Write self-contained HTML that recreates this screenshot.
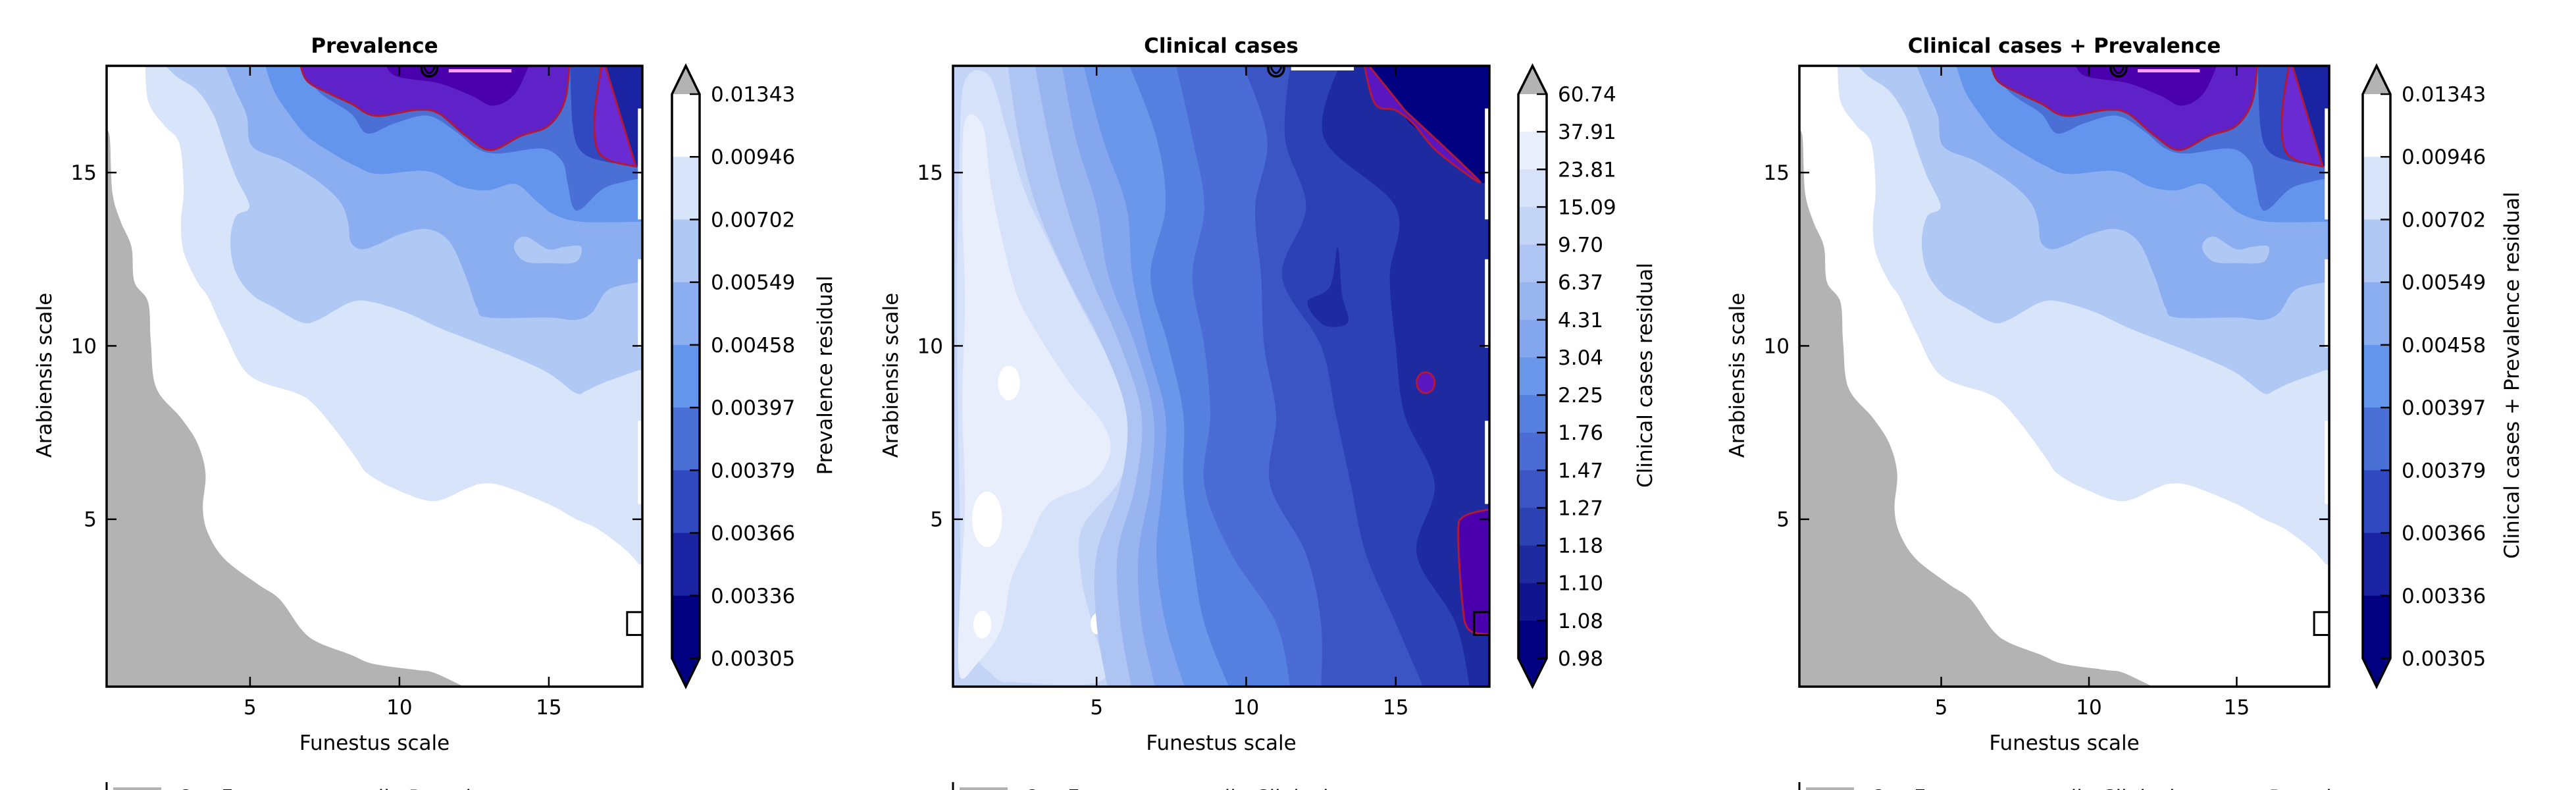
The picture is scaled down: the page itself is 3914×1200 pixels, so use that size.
<!DOCTYPE html>
<html><head><meta charset="utf-8"><title>Residual contour maps</title>
<style>
html,body{margin:0;padding:0;background:#fff;width:3914px;height:1200px;overflow:hidden}
svg{display:block;font-family:"DejaVu Sans","Liberation Sans",sans-serif}
</style></head>
<body>
<svg id="fig" xmlns="http://www.w3.org/2000/svg" width="3914" height="1200" viewBox="0 0 3914 1200"></svg>
<script>
// ---------- data ----------
const xTicks = [5, 10, 15];
const yTicks = [5, 10, 15];
const prevCbarLabels = ['0.01343','0.00946','0.00702','0.00549','0.00458','0.00397','0.00379','0.00366','0.00336','0.00305'];
const prevCbarColors = ['#ffffff','#d8e4fa','#b0c8f4','#8aaef0','#6495ed','#4a70d6','#3049c0','#1a24a3','#000080'];
const clinCbarLabels = ['60.74','37.91','23.81','15.09','9.70','6.37','4.31','3.04','2.25','1.76','1.47','1.27','1.18','1.10','1.08','0.98'];
const clinCbarColors = ['#ffffff','#e8eefb','#d6e2f9','#c3d4f7','#aec5f3','#98b5f0','#84a6ee','#6a97ea','#5580e0','#4a6cd4','#3b55c4','#2c42b4','#1e2aa0','#10148e','#000080'];

// prevalence residual contour boundaries (data coords)
const prevGray = [[0.1,16.2],[0.30,16.06],[0.39,14.45],[0.67,13.59],[1.03,12.86],[1.13,11.85],[1.59,11.26],[1.68,10.10],[1.86,8.79],[2.69,7.92],[3.24,7.19],[3.51,6.32],[3.42,5.31],[3.60,4.58],[4.15,3.85],[5.25,3.13],[5.99,2.69],[6.72,1.82],[7.27,1.45],[8.37,1.09],[9.11,0.83],[10.58,0.65],[11.13,0.58],[12.04,0.22],[12.6,0.0]];
const prevL1 = [[1.49,18.3],[1.59,17.07],[2.14,16.35],[2.50,16.06],[2.69,15.62],[2.78,14.46],[2.69,13.58],[2.78,12.71],[3.24,11.84],[3.60,11.40],[4.15,10.39],[4.98,9.15],[6.54,8.64],[7.09,8.35],[7.82,7.62],[8.56,6.75],[8.93,6.32],[9.84,5.88],[11.13,5.52],[12.23,5.88],[12.78,6.03],[13.51,5.95],[14.98,5.44],[15.90,5.01],[16.63,4.72],[17.55,4.13],[18.01,3.70]];
const prevL2 = [[1.95,18.3],[2.50,17.80],[3.24,17.36],[3.79,16.64],[4.15,15.76],[4.52,14.89],[4.98,14.02],[4.52,13.73],[4.34,13.00],[4.52,12.13],[5.07,11.48],[5.80,11.11],[6.72,10.68],[7.27,10.75],[8.37,11.26],[9.11,11.26],[10.21,10.97],[11.31,10.53],[12.59,10.10],[13.88,9.66],[14.98,9.22],[15.90,8.64],[16.26,8.71],[16.81,8.93],[18.01,9.30]];
const prevL3 = [[4.06,18.3],[4.52,17.36],[4.89,16.64],[5.07,15.76],[6.17,15.33],[7.27,14.75],[8.01,14.16],[8.28,13.58],[8.37,13.00],[8.74,12.79],[9.29,12.93],[10.02,13.22],[10.94,13.37],[11.68,13.00],[12.23,11.99],[12.59,11.11],[12.96,10.82],[14.98,10.82],[15.90,10.75],[16.45,10.97],[16.99,11.62],[18.01,11.84]];
const prevIsland = [[13.88,13.00],[14.25,13.15],[14.98,12.79],[15.53,12.86],[16.08,12.86],[15.90,12.42],[14.98,12.39],[14.25,12.42],[13.88,12.71]];
const prevL4 = [[5.44,18.3],[5.80,17.36],[6.35,16.64],[6.90,16.06],[7.64,15.62],[8.56,15.18],[9.29,14.96],[10.94,15.04],[12.04,14.60],[12.96,14.49],[13.88,14.67],[14.61,14.16],[15.16,13.80],[16.08,13.58],[18.01,13.58]];
const prevL5 = [[6.63,18.3],[7.27,17.36],[8.37,16.71],[8.92,16.13],[9.84,16.42],[10.94,16.64],[11.86,16.20],[12.59,15.69],[13.32,15.55],[14.79,15.69],[15.44,15.33],[15.62,14.74],[15.80,14.02],[16.08,13.95],[16.81,14.53],[17.55,14.74],[18.01,14.82]];
const prevL6 = [[15.71,18.3],[15.80,16.35],[16.08,15.62],[16.81,15.33],[18.01,15.18]];
const prevPurple = [[6.63,18.3],[6.90,17.66],[7.64,17.29],[8.37,17.00],[9.20,16.64],[10.58,16.81],[11.31,16.71],[12.23,16.06],[13.05,15.65],[14.06,16.06],[14.98,16.35],[15.53,17.07],[15.71,18.3]];
const prevPurpleCore = [[9.48,18.3],[9.84,17.8],[11.31,17.58],[12.41,17.22],[13.14,16.93],[13.88,17.29],[14.43,18.3]];
const prevRightPurple = [[16.81,18.3],[16.54,16.78],[16.59,15.76],[17.0,15.36],[17.91,15.18]];
const prevRightNavy = [[16.81,18.3],[18.2,18.3],[18.2,15.18],[17.91,15.18]];

// clinical residual contour boundaries
const clinYs = [18.3, 16, 14, 12, 10, 8, 6, 4, 2, 0];
const clinBands = [
  [2.0,2.4,3.0,4.0,5.2,6.0,5.8,5.0,5.0,5.4],
  [2.9,3.4,4.0,4.8,5.8,6.5,6.3,5.7,5.8,6.2],
  [3.8,4.3,5.0,5.4,6.3,6.9,6.8,6.4,6.5,7.0],
  [4.5,5.2,6.0,6.2,6.7,7.3,7.2,7.0,7.3,8.0],
  [6.0,7.0,7.3,6.8,7.4,7.9,7.9,8.2,8.6,9.5],
  [7.6,8.2,8.6,8.2,8.6,8.8,8.6,9.5,11.0,11.5],
  [9.8,10.7,10.3,10.5,10.6,11.0,10.8,12.0,12.5,12.5],
  [11.5,11.3,12.0,11.2,12.5,13.0,13.5,14.0,15.0,16.0],
  [13.2,12.6,15.0,14.8,15.0,15.3,16.3,15.7,17.0,17.5]
];
const clinBandColors = ['#aec5f3','#98b5f0','#84a6ee','#6a97ea','#5580e0','#4a6cd4','#3b55c4','#2c42b4','#1e2aa0'];
const clinMid = [[0.60,17.65],[1.40,17.80],[2.0,16.20],[2.6,14.46],[3.4,13.00],[4.4,11.26],[5.3,9.80],[5.9,8.64],[6.2,7.19],[5.7,6.03],[4.5,4.72],[4.5,3.27],[4.9,1.81],[5.2,0.36],[2.44,0.29],[1.53,0.50],[0.60,1.81],[0.42,5.45],[0.33,11.26],[0.42,15.62]];
const clinCore = [[0.60,16.48],[1.20,16.34],[1.50,14.46],[2.2,11.84],[2.8,10.68],[4.1,8.93],[5.2,7.77],[5.45,6.90],[4.8,6.03],[3.4,5.45],[2.7,4.28],[2.15,3.27],[1.8,1.81],[0.97,0.80],[0.42,0.50],[0.42,2.54],[0.60,5.45],[0.51,8.35],[0.60,11.26],[0.51,14.17]];
const clinWhiteBlobs = [[2.07,8.93,0.37,0.5],[1.34,5.0,0.5,0.8],[1.18,1.96,0.3,0.4],[5.0,1.98,0.2,0.3]];
const clinIsland = [[12.05,11.26],[12.8,11.7],[13.06,12.86],[13.2,11.5],[13.4,10.68],[12.6,10.6]];
const clinNavy = [[13.9,18.3],[14.3,17.6],[15.5,16.4],[17.9,14.7],[18.3,14.7],[18.3,18.3]];
const clinDiagPurple = [[13.9,18.3],[14.3,17.0],[15.0,16.8],[15.6,16.4],[16.4,15.6],[17.8,14.75],[15.3,16.8]];
const clinCircle = [16.0, 8.94, 0.3];
const clinBottomPurple = [[18.2,5.3],[17.27,5.08],[17.09,4.57],[17.23,2.54],[17.45,1.81],[18.2,1.67]];

// right-edge uncovered strips [yTop, yBottom]
const edgeStrips = [[16.85,13.65],[12.5,9.95],[7.84,5.44]];

// ---------- layout ----------
const X0 = 0.2, X1 = 18.13, Y0 = 0.17, Y1 = 18.08;
const TOP = 100, BOT = 1043;
const panels = [
  {key:'prevalence', title:'Prevalence', left:162, right:976, cbL:1021, cbR:1063, cbTitle:'Prevalence residual', cbTitleX:1254, kind:'prev', legend:'Out Funestus quantile Prevalence'},
  {key:'clinical', title:'Clinical cases', left:1448, right:2263, cbL:2307, cbR:2350, cbTitle:'Clinical cases residual', cbTitleX:2500, kind:'clin', legend:'Out Funestus quantile Clinical cases'},
  {key:'combined', title:'Clinical cases + Prevalence', left:2734, right:3539, cbL:3590, cbR:3632, cbTitle:'Clinical cases + Prevalence residual', cbTitleX:3817, kind:'prev', legend:'Out Funestus quantile Clinical cases + Prevalence'}
];

const NS = 'http://www.w3.org/2000/svg';
const fig = document.getElementById('fig');
function mk(tag, attrs, parent){
  const e = document.createElementNS(NS, tag);
  for (const k in attrs) e.setAttribute(k, attrs[k]);
  (parent || fig).appendChild(e);
  return e;
}
function smoothPath(pts){
  let d = 'M' + pts[0][0].toFixed(1) + ',' + pts[0][1].toFixed(1);
  for (let i = 0; i < pts.length - 1; i++){
    const p0 = pts[i-1] || pts[i], p1 = pts[i], p2 = pts[i+1], p3 = pts[i+2] || p2;
    const c1 = [p1[0] + (p2[0]-p0[0])/6, p1[1] + (p2[1]-p0[1])/6];
    const c2 = [p2[0] - (p3[0]-p1[0])/6, p2[1] - (p3[1]-p1[1])/6];
    d += ' C' + c1[0].toFixed(1)+','+c1[1].toFixed(1)+' '+c2[0].toFixed(1)+','+c2[1].toFixed(1)+' '+p2[0].toFixed(1)+','+p2[1].toFixed(1);
  }
  return d;
}
function closedSmooth(pts){
  const n = pts.length;
  const ext = [pts[n-1]].concat(pts, [pts[0], pts[1]]);
  let d = 'M' + pts[0][0].toFixed(1) + ',' + pts[0][1].toFixed(1);
  for (let i = 1; i <= n; i++){
    const p0 = ext[i-1], p1 = ext[i], p2 = ext[i+1], p3 = ext[i+2];
    const c1 = [p1[0] + (p2[0]-p0[0])/6, p1[1] + (p2[1]-p0[1])/6];
    const c2 = [p2[0] - (p3[0]-p1[0])/6, p2[1] - (p3[1]-p1[1])/6];
    d += ' C' + c1[0].toFixed(1)+','+c1[1].toFixed(1)+' '+c2[0].toFixed(1)+','+c2[1].toFixed(1)+' '+p2[0].toFixed(1)+','+p2[1].toFixed(1);
  }
  return d + 'Z';
}

panels.forEach(function(P, pi){
  const sx = v => P.left + (v - X0) / (X1 - X0) * (P.right - P.left);
  const sy = v => BOT - (v - Y0) / (Y1 - Y0) * (BOT - TOP);
  const px = pts => pts.map(p => [sx(p[0]), sy(p[1])]);
  const cornerShape = pts => {
    const q = px(pts);
    const last = q[q.length-1];
    return smoothPath(q) + ' L' + sx(18.4) + ',' + last[1] + ' L' + sx(18.4) + ',' + sy(18.4) + ' L' + q[0][0] + ',' + sy(18.4) + 'Z';
  };

  const g = mk('g', {});
  
  

  const clip = mk('clipPath', {id: 'clip' + pi}, g);
  mk('rect', {x: P.left, y: TOP, width: P.right - P.left, height: BOT - TOP}, clip);

  const plot = mk('g', {'clip-path': 'url(#clip' + pi + ')'}, g);
  
  

  if (P.kind === 'prev'){
    const bg = mk('rect', {x: P.left, y: TOP, width: P.right - P.left, height: BOT - TOP, fill: '#ffffff'}, plot);
    
    
    const levels = [prevL1, prevL2, prevL3, prevL4, prevL5, prevL6];
    levels.forEach(function(L, li){
      const p = mk('path', {d: cornerShape(L), fill: prevCbarColors[li+1]}, plot);
      
      
      if (li === 2){
        const isl = mk('path', {d: closedSmooth(px(prevIsland)), fill: prevCbarColors[2]}, plot);
        
        
      }
    });
    const pur = mk('path', {d: smoothPath(px(prevPurple)) + 'Z', fill: '#5f22c8', stroke: '#b0183c', 'stroke-width': 3}, plot);
    
    
    const core = mk('path', {d: smoothPath(px(prevPurpleCore)) + 'Z', fill: '#4a00ad'}, plot);
    
    
    const rn = mk('path', {d: 'M' + px(prevRightNavy).map(p => p.join(',')).join(' L') + 'Z', fill: '#1a24a3'}, plot);
    
    
    const rp = mk('path', {d: smoothPath(px(prevRightPurple)) + 'Z', fill: '#6a2cd2', stroke: '#b0183c', 'stroke-width': 3}, plot);
    
    
    const gq = px(prevGray);
    const gray = mk('path', {d: smoothPath(gq) + ' L' + sx(-1) + ',' + sy(-1) + ' L' + sx(-1) + ',' + sy(16.2) + 'Z', fill: '#b3b3b3'}, plot);
    
    
    const pink = mk('rect', {x: sx(11.65), y: TOP + 5, width: sx(13.75) - sx(11.65), height: 5, fill: '#ff9cff'}, plot);
    
    
  } else {
    const bg = mk('rect', {x: P.left, y: TOP, width: P.right - P.left, height: BOT - TOP, fill: '#c3d4f7'}, plot);
    
    
    const mid = mk('path', {d: closedSmooth(px(clinMid)), fill: '#d6e2f9'}, plot);
    
    
    const core = mk('path', {d: closedSmooth(px(clinCore)), fill: '#e8eefb'}, plot);
    
    
    clinWhiteBlobs.forEach(function(b){
      const e = mk('ellipse', {cx: sx(b[0]), cy: sy(b[1]), rx: sx(b[0]+b[2]) - sx(b[0]), ry: sy(b[1]) - sy(b[1]+b[3]), fill: '#ffffff'}, plot);
      
      
    });
    clinBands.forEach(function(B, bi){
      const pts = px(B.map((x, i) => [x, clinYs[i]]));
      const d = smoothPath(pts) + ' L' + sx(18.4) + ',' + sy(-0.5) + ' L' + sx(18.4) + ',' + sy(18.4) + 'Z';
      const p = mk('path', {d: d, fill: clinBandColors[bi]}, plot);
      
      
    });
    const isl = mk('path', {d: closedSmooth(px(clinIsland)), fill: '#1e2aa0'}, plot);
    
    
    const nv = mk('path', {d: 'M' + px(clinNavy).map(p => p.join(',')).join(' L') + 'Z', fill: '#000080'}, plot);
    
    
    const dp = mk('path', {d: smoothPath(px(clinDiagPurple)) + 'Z', fill: '#5a16c0', stroke: '#b0183c', 'stroke-width': 3}, plot);
    
    
    const c = mk('ellipse', {cx: sx(clinCircle[0]), cy: sy(clinCircle[1]), rx: sx(clinCircle[0]+clinCircle[2]) - sx(clinCircle[0]), ry: sy(clinCircle[1]) - sy(clinCircle[1]+clinCircle[2]), fill: '#5a16c0', stroke: '#b0183c', 'stroke-width': 3}, plot);
    
    
    const bp = mk('path', {d: smoothPath(px(clinBottomPurple)) + 'Z', fill: '#4a00ad', stroke: '#b0183c', 'stroke-width': 3}, plot);
    
    
    const wb = mk('rect', {x: sx(11.5), y: TOP, width: sx(13.6) - sx(11.5), height: 7, fill: '#ffffff'}, plot);
    
    
  }
  edgeStrips.forEach(function(s){
    const r = mk('rect', {x: sx(17.98), y: sy(s[0]), width: P.right - sx(17.98), height: sy(s[1]) - sy(s[0]), fill: '#ffffff'}, plot);
    
    
  });
  const mkG = mk('g', {}, plot);
  
  
  const mx = sx(11.0), my = TOP + 4;
  mk('circle', {cx: mx, cy: my, r: 12, fill: 'none', stroke: '#000', 'stroke-width': 3.5}, mkG);
  mk('path', {d: 'M' + (mx-8) + ',' + (my-2) + ' Q' + mx + ',' + (my+16) + ' ' + (mx+8) + ',' + (my-2), fill: 'none', stroke: '#000', 'stroke-width': 3}, mkG);
  const sq = mk('rect', {x: sx(17.62), y: sy(2.32), width: P.right - sx(17.62), height: sy(1.66) - sy(2.32), fill: 'none', stroke: '#000', 'stroke-width': 3}, plot);
  
  

  const fr = mk('rect', {x: P.left, y: TOP, width: P.right - P.left, height: BOT - TOP, fill: 'none', stroke: '#000', 'stroke-width': 3.5}, g);
  
  

  xTicks.forEach(function(t){
    const x = sx(t);
    const tk = mk('path', {d: 'M' + x + ',' + BOT + ' v-15 M' + x + ',' + TOP + ' v15', stroke: '#000', 'stroke-width': 2.5}, g);
    
    
    const tl = mk('text', {x: x, y: 1085, 'font-size': 31, 'text-anchor': 'middle', fill: '#000'}, g);
    tl.textContent = t;
    
    
  });
  yTicks.forEach(function(t){
    const y = sy(t);
    const tk = mk('path', {d: 'M' + P.left + ',' + y + ' h15 M' + P.right + ',' + y + ' h-15', stroke: '#000', 'stroke-width': 2.5}, g);
    
    
    const tl = mk('text', {x: P.left - 15, y: y + 11, 'font-size': 31, 'text-anchor': 'end', fill: '#000'}, g);
    tl.textContent = t;
    
    
  });

  const cx = (P.left + P.right) / 2;
  const title = mk('text', {x: cx, y: 80, 'font-size': 31, 'font-weight': 'bold', 'text-anchor': 'middle', fill: '#000'}, g);
  title.textContent = P.title;
  
  
  const xl = mk('text', {x: cx, y: 1139, 'font-size': 31, 'text-anchor': 'middle', fill: '#000'}, g);
  xl.textContent = 'Funestus scale';
  
  
  const yx = P.left - 94;
  const yl = mk('text', {x: yx, y: 570, 'font-size': 31, 'text-anchor': 'middle', 'dominant-baseline': 'central', transform: 'rotate(-90 ' + yx + ' 570)', fill: '#000'}, g);
  yl.textContent = 'Arabiensis scale';
  
  

  const labels = P.kind === 'prev' ? prevCbarLabels : clinCbarLabels;
  const colors = P.kind === 'prev' ? prevCbarColors : clinCbarColors;
  const cbTop = 143, cbBot = 1000, tipTop = 100, tipBot = 1043;
  const nb = colors.length;
  const bh = (cbBot - cbTop) / nb;
  const cb = mk('g', {}, g);
  
  
  const cmid = (P.cbL + P.cbR) / 2;
  mk('path', {d: 'M' + P.cbL + ',' + cbTop + ' L' + cmid + ',' + tipTop + ' L' + P.cbR + ',' + cbTop + 'Z', fill: '#b3b3b3'}, cb);
  mk('path', {d: 'M' + P.cbL + ',' + cbBot + ' L' + cmid + ',' + tipBot + ' L' + P.cbR + ',' + cbBot + 'Z', fill: '#000080'}, cb);
  colors.forEach(function(c, i){
    const r = mk('rect', {x: P.cbL, y: cbTop + i * bh, width: P.cbR - P.cbL, height: bh + 0.5, fill: c}, cb);
    
    
  });
  mk('path', {d: 'M' + P.cbL + ',' + cbTop + ' L' + cmid + ',' + tipTop + ' L' + P.cbR + ',' + cbTop + ' L' + P.cbR + ',' + cbBot + ' L' + cmid + ',' + tipBot + ' L' + P.cbL + ',' + cbBot + 'Z', fill: 'none', stroke: '#000', 'stroke-width': 3.5, 'stroke-linejoin': 'miter'}, cb);
  labels.forEach(function(l, i){
    const y = cbTop + i * (cbBot - cbTop) / (labels.length - 1);
    mk('path', {d: 'M' + P.cbR + ',' + y + ' h-15', stroke: '#000', 'stroke-width': 2.5}, cb);
    const t = mk('text', {x: P.cbR + 17, y: y + 11, 'font-size': 31, fill: '#000'}, cb);
    t.textContent = l;
    
    
  });
  const ct = mk('text', {x: P.cbTitleX, y: 570, 'font-size': 31, 'text-anchor': 'middle', 'dominant-baseline': 'central', transform: 'rotate(-90 ' + P.cbTitleX + ' 570)', fill: '#000'}, g);
  ct.textContent = P.cbTitle;
  
  

  const lg = mk('g', {}, g);
  
  
  mk('path', {d: 'M' + P.left + ',1188 V1200', stroke: '#000', 'stroke-width': 3}, lg);
  const lp = mk('rect', {x: P.left + 10, y: 1196, width: 73, height: 6, fill: '#b3b3b3'}, lg);
  
  
  const lt = mk('text', {x: P.left + 108, y: 1222, 'font-size': 31, fill: '#000'}, lg);
  lt.textContent = P.legend;
  
  
});
</script>
</body></html>
